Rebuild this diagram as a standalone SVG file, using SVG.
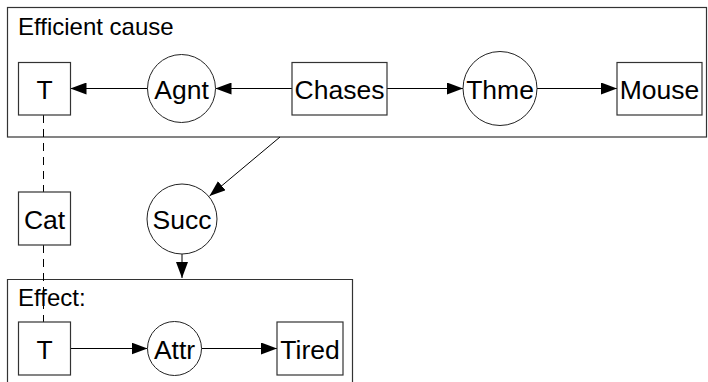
<svg xmlns="http://www.w3.org/2000/svg" width="708" height="382" viewBox="0 0 708 382">
  <defs>
    <marker id="arrow" viewBox="0 0 16 12" refX="16" refY="6" markerWidth="16" markerHeight="12" markerUnits="userSpaceOnUse" orient="auto">
      <path d="M0,0 L16,6 L0,12 Z" fill="#000"/>
    </marker>
    <style>
      .ctx { fill: #fff; stroke: #333; stroke-width: 1.2; }
      .box { fill: #fff; stroke: #333; stroke-width: 1.2; }
      .rel { fill: #fff; stroke: #222; stroke-width: 1; }
      .lbl { font-family: "Liberation Sans", Arial, sans-serif; font-size: 26.5px; fill: #000; text-anchor: middle; }
      .ttl { font-family: "Liberation Sans", Arial, sans-serif; font-size: 24px; fill: #000; }
      .edge { stroke: #000; stroke-width: 1; fill: none; marker-end: url(#arrow); }
      .coref { stroke: #000; stroke-width: 1; fill: none; stroke-dasharray: 8 6; }
    </style>
  </defs>
  <rect width="708" height="382" fill="#fff"/>

  <!-- context: efficient cause -->
  <g id="ctx-cause">
    <rect class="ctx" x="7.5" y="7.5" width="699" height="129.5"/>
    <text class="ttl" x="18" y="35">Efficient cause</text>
  </g>

  <!-- context: effect (open at the bottom edge) -->
  <g id="ctx-effect">
    <path class="ctx" d="M7.5,392 V279.5 H352.5 V392"/>
    <text class="ttl" x="18" y="306">Effect:</text>
  </g>

  <!-- coreference line between T, Cat and T -->
  <g id="coref">
    <line class="coref" x1="43.5" y1="115" x2="43.5" y2="192"/>
    <line class="coref" x1="43.5" y1="245" x2="43.5" y2="322"/>
  </g>

  <!-- connectors -->
  <g id="edges">
    <line class="edge" x1="148" y1="88.5" x2="70.5" y2="88.5"/>
    <line class="edge" x1="292" y1="88.5" x2="215.5" y2="88.5"/>
    <line class="edge" x1="387" y1="88.5" x2="463" y2="88.5"/>
    <line class="edge" x1="537" y1="88.5" x2="617" y2="88.5"/>
    <line class="edge" x1="280" y1="137" x2="209.5" y2="196"/>
    <line class="edge" x1="182" y1="254" x2="182" y2="278"/>
    <line class="edge" x1="70.5" y1="348.5" x2="147.5" y2="348.5"/>
    <line class="edge" x1="201.5" y1="348.5" x2="277" y2="348.5"/>
  </g>

  <!-- nodes -->
  <g id="node-t1">
    <rect class="box" x="18.5" y="62.5" width="52" height="52.5"/>
    <text class="lbl" x="44.5" y="98.5">T</text>
  </g>
  <g id="node-agnt">
    <circle class="rel" cx="181.5" cy="88.5" r="34"/>
    <text class="lbl" x="181.5" y="98.5">Agnt</text>
  </g>
  <g id="node-chases">
    <rect class="box" x="292" y="62.5" width="95" height="52.5"/>
    <text class="lbl" x="339.5" y="98.5">Chases</text>
  </g>
  <g id="node-thme">
    <circle class="rel" cx="500" cy="88.5" r="37"/>
    <text class="lbl" x="500" y="98.5">Thme</text>
  </g>
  <g id="node-mouse">
    <rect class="box" x="617" y="62.5" width="85" height="52.5"/>
    <text class="lbl" x="659.5" y="98.5">Mouse</text>
  </g>
  <g id="node-cat">
    <rect class="box" x="18.5" y="192" width="52" height="53"/>
    <text class="lbl" x="44.5" y="228.5">Cat</text>
  </g>
  <g id="node-succ">
    <circle class="rel" cx="182" cy="219" r="35"/>
    <text class="lbl" x="182" y="228.5">Succ</text>
  </g>
  <g id="node-t2">
    <rect class="box" x="18.5" y="322" width="52" height="53"/>
    <text class="lbl" x="44.5" y="358.5">T</text>
  </g>
  <g id="node-attr">
    <circle class="rel" cx="174.5" cy="348.5" r="27"/>
    <text class="lbl" x="174.5" y="358.5">Attr</text>
  </g>
  <g id="node-tired">
    <rect class="box" x="277" y="322" width="66" height="53"/>
    <text class="lbl" x="310" y="358.5">Tired</text>
  </g>
</svg>
